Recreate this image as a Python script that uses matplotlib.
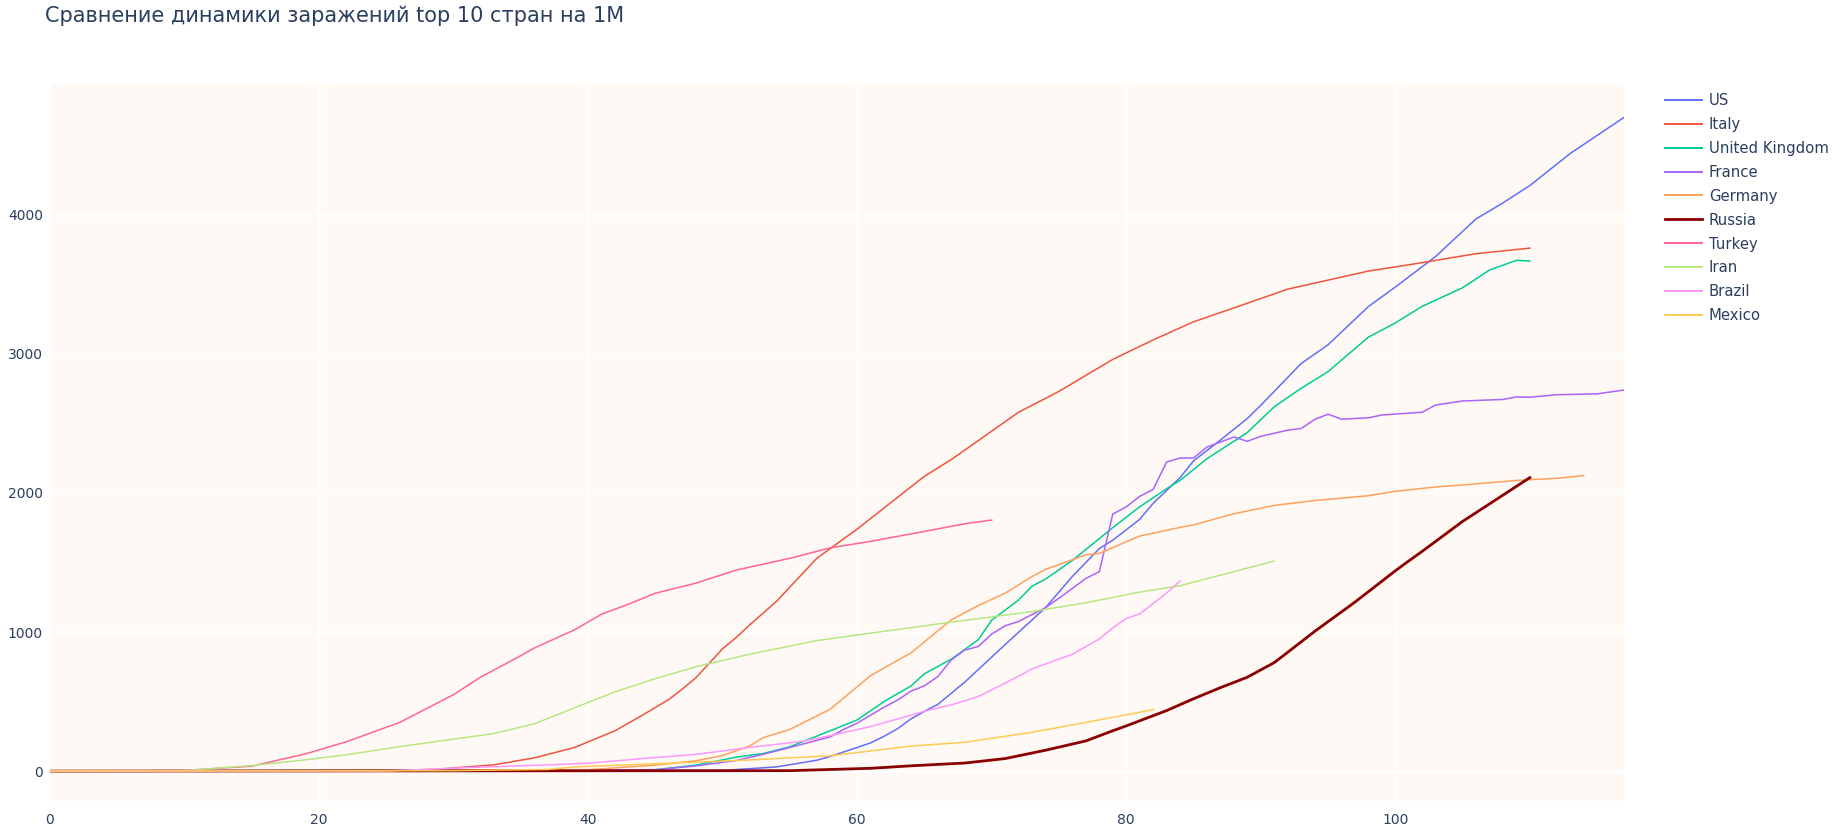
import matplotlib.pyplot as plt

# days since start / cases per 1M
us_days = [0, 50, 54, 57, 58, 60, 61, 62, 63, 64, 65, 66, 68, 71, 74, 76, 78, 79, 81, 82, 84, 85, 87,
           89, 90, 91, 93, 95, 98, 100, 103, 106, 108, 110, 113, 117]
us_vals = [0, 5, 30, 78, 105, 170, 203, 250, 305, 375, 430, 480, 640, 910, 1175, 1400, 1600, 1660, 1810,
           1925, 2110, 2230, 2380, 2535, 2630, 2730, 2930, 3065, 3340, 3480, 3700, 3970, 4085, 4210, 4440, 4700]

italy_days = [0, 25, 29, 33, 36, 39, 42, 44, 46, 47, 48, 49, 50, 51, 52, 54, 57, 58, 60, 65, 67, 72, 75,
              79, 82, 85, 88, 92, 98, 101, 106, 110]
italy_vals = [0, 0, 15, 45, 95, 170, 290, 400, 515, 590, 670, 775, 880, 960, 1050, 1220, 1530, 1600, 1740,
              2120, 2240, 2580, 2730, 2960, 3100, 3230, 3330, 3465, 3595, 3640, 3720, 3760]

uk_days = [0, 45, 48, 51, 53, 55, 58, 60, 62, 64, 65, 67, 69, 70, 72, 73, 74, 76, 79, 81, 83, 84, 86, 89,
           91, 93, 95, 98, 100, 102, 105, 107, 109, 110]
uk_vals = [0, 10, 43, 100, 126, 175, 290, 368, 500, 612, 700, 805, 945, 1085, 1230, 1330, 1380, 1515, 1750,
           1900, 2030, 2090, 2246, 2434, 2619, 2752, 2872, 3120, 3222, 3342, 3475, 3602, 3672, 3667]

france_days = [0, 45, 48, 51, 53, 55, 58, 59, 60, 62, 63, 64, 65, 66, 67, 68, 69, 70, 71, 72, 74, 75, 77,
               78, 79, 80, 81, 82, 83, 84, 85, 86, 88, 89, 90, 92, 93, 94, 95, 96, 98, 99, 102, 103, 105,
               108, 109, 110, 112, 115, 117]
france_vals = [0, 10, 37, 76, 120, 170, 246, 300, 345, 460, 510, 575, 613, 680, 800, 870, 896, 985, 1045,
               1076, 1175, 1243, 1385, 1434, 1848, 1900, 1975, 2025, 2222, 2251, 2251, 2330, 2402, 2371,
               2407, 2451, 2463, 2528, 2566, 2530, 2540, 2560, 2580, 2632, 2661, 2672, 2690, 2688, 2706,
               2712, 2740]

germany_days = [0, 40, 45, 48, 50, 52, 53, 55, 58, 61, 64, 67, 69, 71, 73, 74, 77, 78, 81, 84, 85, 88, 91,
                94, 98, 100, 103, 106, 109, 112, 114]
germany_vals = [0, 10, 43, 74, 112, 180, 240, 300, 445, 687, 850, 1088, 1190, 1279, 1399, 1450, 1555, 1565,
                1690, 1752, 1770, 1850, 1910, 1945, 1980, 2012, 2043, 2065, 2090, 2105, 2125]

russia_days = [0, 55, 61, 64, 68, 71, 74, 77, 79, 80, 83, 85, 87, 89, 91, 92, 94, 97, 100, 101, 102, 105, 110]
russia_vals = [0, 3, 20, 38, 58, 90, 150, 217, 290, 325, 435, 520, 600, 675, 780, 854, 1004, 1215, 1440,
               1511, 1580, 1795, 2110]

turkey_days = [0, 10, 15, 17, 19, 22, 26, 30, 32, 35, 36, 39, 41, 43, 45, 48, 51, 55, 58, 61, 64, 68, 70]
turkey_vals = [0, 5, 35, 80, 124, 210, 350, 550, 675, 830, 885, 1016, 1128, 1200, 1279, 1351, 1445, 1530,
               1605, 1652, 1705, 1778, 1805]

iran_days = [0, 10, 15, 19, 22, 26, 30, 33, 36, 39, 42, 45, 48, 52, 57, 62, 67, 73, 77, 81, 84, 88, 91]
iran_vals = [0, 3, 40, 81, 117, 176, 230, 270, 340, 455, 570, 665, 750, 840, 938, 1005, 1071, 1147, 1210,
             1287, 1333, 1434, 1510]

brazil_days = [0, 25, 31, 37, 40, 44, 48, 52, 56, 58, 61, 65, 67, 69, 71, 73, 76, 78, 79, 80, 81, 83, 84]
brazil_vals = [0, 1, 25, 45, 56, 90, 120, 170, 215, 255, 320, 430, 476, 536, 632, 735, 840, 950, 1030,
               1097, 1130, 1280, 1367]

mexico_days = [0, 30, 37, 39, 45, 52, 58, 64, 68, 73, 77, 80, 82]
mexico_vals = [0, 3, 12, 30, 53, 80, 110, 180, 207, 279, 350, 405, 442]

countries = ["US", "Italy", "United Kingdom", "France", "Germany", "Russia", "Turkey", "Iran", "Brazil", "Mexico"]
series = [(us_days, us_vals), (italy_days, italy_vals), (uk_days, uk_vals), (france_days, france_vals),
          (germany_days, germany_vals), (russia_days, russia_vals), (turkey_days, turkey_vals),
          (iran_days, iran_vals), (brazil_days, brazil_vals), (mexico_days, mexico_vals)]
colors = ["#636EFA", "#EF553B", "#00CC96", "#AB63FA", "#FFA15A", "#8B0000", "#FF6692", "#B6E880",
          "#FF97FF", "#FECB52"]

text_col = "#2a3f5f"
plt.rcParams['font.family'] = ['DejaVu Sans']

fig = plt.figure(figsize=(18.32, 8.34), dpi=100)
ax = fig.add_axes([50 / 1832, 1 - 801 / 834, (1624 - 50) / 1832, (801 - 84) / 834])
ax.set_facecolor("#FEF9F5")

for (d, v), name, c in zip(series, countries, colors):
    lw = 2.0 if name == "Russia" else 1.1
    ax.plot(d, v, color=c, lw=lw, label=name, zorder=3)

ax.set_xlim(0, 117)
ax.set_ylim(-215, 4940)
ax.set_xticks(range(0, 101, 20))
ax.set_yticks(range(0, 4001, 1000))
ax.grid(color="white", lw=1, zorder=0)
ax.axhline(0, color="white", lw=2, zorder=1)
ax.set_axisbelow(True)
for s in ax.spines.values():
    s.set_visible(False)
ax.tick_params(length=0, labelsize=10, labelcolor=text_col)
ax.tick_params(axis="x", pad=9)
ax.tick_params(axis="y", pad=5)

fig.text(45 / 1832, 1 - 16 / 834, "Сравнение динамики заражений top 10 стран на 1M",
         fontsize=15, color=text_col, va="center", ha="left")

leg = ax.legend(loc="upper left", bbox_to_anchor=(1665 / 1832, 1 - 93 / 834),
                bbox_transform=fig.transFigure, frameon=False, fontsize=10.7,
                handlelength=2.5, handletextpad=0.45, labelspacing=0.6, borderaxespad=0, borderpad=0)
for t in leg.get_texts():
    t.set_color(text_col)
for h in leg.legend_handles:
    h.set_linewidth(2.0 if h.get_label() == "Russia" else 1.4)

fig.savefig("out.png", dpi=100)
